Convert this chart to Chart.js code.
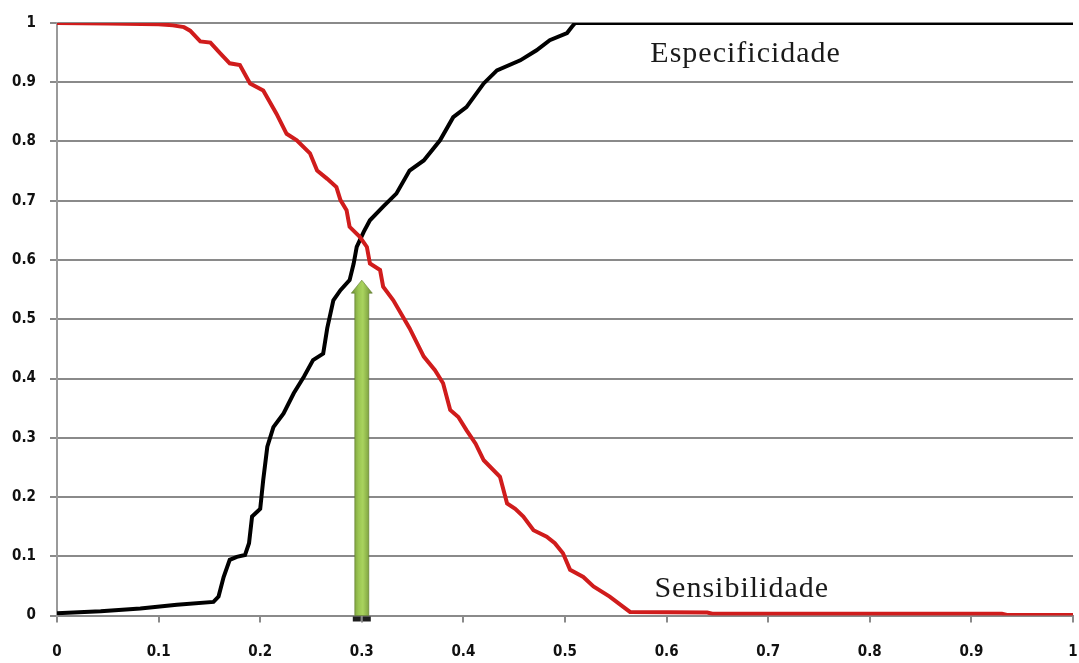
<!DOCTYPE html>
<html>
<head>
<meta charset="utf-8">
<script src="https://cdn.jsdelivr.net/npm/chart.js@4/dist/chart.umd.min.js"></script>
<style>
  html, body { margin: 0; padding: 0; background: #fff; }
  #wrap { width: 1079px; height: 663px; }
</style>
</head>
<body>
<div id="wrap"><canvas id="c" width="1079" height="663"></canvas></div>
<script>
// Sensibilidade (sensitivity) versus cut-off point
const sensX = [0, 0.05, 0.10, 0.114, 0.125, 0.131, 0.141, 0.151, 0.160, 0.170, 0.180, 0.190, 0.203, 0.216, 0.226, 0.236, 0.249, 0.256, 0.266, 0.275, 0.279, 0.285, 0.288, 0.298, 0.305, 0.308, 0.318, 0.321, 0.331, 0.347, 0.361, 0.372, 0.380, 0.387, 0.395, 0.403, 0.412, 0.420, 0.436, 0.443, 0.451, 0.459, 0.469, 0.482, 0.490, 0.498, 0.505, 0.518, 0.528, 0.544, 0.557, 0.564, 0.640, 0.645, 0.930, 0.935, 1.0];
const sensY = [1.0, 0.999, 0.998, 0.996, 0.993, 0.987, 0.969, 0.967, 0.950, 0.932, 0.929, 0.898, 0.886, 0.847, 0.813, 0.802, 0.780, 0.751, 0.737, 0.723, 0.701, 0.684, 0.656, 0.639, 0.622, 0.594, 0.583, 0.555, 0.532, 0.485, 0.437, 0.414, 0.392, 0.347, 0.335, 0.313, 0.290, 0.262, 0.234, 0.189, 0.180, 0.167, 0.144, 0.133, 0.122, 0.105, 0.077, 0.065, 0.049, 0.032, 0.015, 0.006, 0.005, 0.003, 0.003, 0.001, 0.001];

// Especificidade (specificity) versus cut-off point
const specX = [0, 0.043, 0.082, 0.118, 0.154, 0.159, 0.164, 0.170, 0.177, 0.185, 0.189, 0.192, 0.197, 0.200, 0.203, 0.207, 0.213, 0.223, 0.233, 0.243, 0.252, 0.262, 0.266, 0.272, 0.279, 0.288, 0.292, 0.295, 0.302, 0.308, 0.321, 0.334, 0.347, 0.361, 0.377, 0.390, 0.403, 0.420, 0.433, 0.456, 0.472, 0.485, 0.502, 0.507, 0.510, 1.0];
const specY = [0.004, 0.007, 0.012, 0.018, 0.023, 0.032, 0.065, 0.094, 0.099, 0.102, 0.122, 0.167, 0.175, 0.180, 0.229, 0.285, 0.318, 0.341, 0.375, 0.403, 0.431, 0.442, 0.485, 0.532, 0.549, 0.566, 0.594, 0.622, 0.648, 0.667, 0.690, 0.712, 0.751, 0.768, 0.802, 0.841, 0.858, 0.898, 0.920, 0.937, 0.954, 0.971, 0.983, 0.994, 1.0, 1.0];

// Axis tick labels
const xTickLabels = ['0', '0.1', '0.2', '0.3', '0.4', '0.5', '0.6', '0.7', '0.8', '0.9', '1'];
const yTickLabels = ['0', '0.1', '0.2', '0.3', '0.4', '0.5', '0.6', '0.7', '0.8', '0.9', '1'];

// Chosen cut-off marked by the arrow, and how high the arrow reaches
const cutoffX = 0.3;
const arrowTopY = 0.566;

// Curve names written next to each curve: [text, x, y(baseline)]
const curveLabels = [
  ['Especificidade', 0.584, 0.935],
  ['Sensibilidade', 0.588, 0.031]
];

const toPoints = (xs, ys) => xs.map((x, i) => ({ x, y: ys[i] }));

const arrowPlugin = {
  id: 'cutoffArrow',
  afterDatasetsDraw(chart) {
    const { ctx, scales: { x, y } } = chart;
    const cx = x.getPixelForValue(cutoffX);
    const yBase = y.getPixelForValue(0);
    const yTip = y.getPixelForValue(arrowTopY);
    const shaftW = 14, headW = 21, headH = 13;
    ctx.save();
    // dark foot under the arrow
    ctx.fillStyle = '#1e1e1e';
    ctx.fillRect(cx - 9, yBase + 1, 8, 5);
    ctx.fillRect(cx + 1, yBase + 1, 8, 5);
    // shaft with a rounded-looking gradient
    const g = ctx.createLinearGradient(cx - headW / 2, 0, cx + headW / 2, 0);
    g.addColorStop(0, '#6d8f34');
    g.addColorStop(0.35, '#9cc653');
    g.addColorStop(0.55, '#a9d35e');
    g.addColorStop(1, '#6a8a32');
    ctx.fillStyle = g;
    ctx.beginPath();
    ctx.moveTo(cx - shaftW / 2, yBase);
    ctx.lineTo(cx - shaftW / 2, yTip + headH);
    ctx.lineTo(cx - headW / 2, yTip + headH);
    ctx.lineTo(cx, yTip);
    ctx.lineTo(cx + headW / 2, yTip + headH);
    ctx.lineTo(cx + shaftW / 2, yTip + headH);
    ctx.lineTo(cx + shaftW / 2, yBase);
    ctx.closePath();
    ctx.fill();
    ctx.strokeStyle = 'rgba(90,120,40,0.6)';
    ctx.lineWidth = 1;
    ctx.stroke();
    ctx.restore();
  }
};

const labelPlugin = {
  id: 'curveNames',
  afterDatasetsDraw(chart) {
    const { ctx, scales: { x, y } } = chart;
    ctx.save();
    ctx.font = '30px "Liberation Serif", "Times New Roman", serif';
    ctx.fillStyle = '#1a1a1a';
    ctx.textAlign = 'left';
    ctx.textBaseline = 'alphabetic';
    if ('letterSpacing' in ctx) ctx.letterSpacing = '1px';
    curveLabels.forEach(([t, vx, vy]) => {
      ctx.fillText(t, x.getPixelForValue(vx), y.getPixelForValue(vy));
    });
    ctx.restore();
  }
};

const tickFont = { family: '"DejaVu Sans Condensed", "DejaVu Sans", sans-serif', weight: 'bold', size: 15 };

new Chart(document.getElementById('c'), {
  type: 'scatter',
  data: {
    datasets: [
      {
        label: 'Sensibilidade',
        data: toPoints(sensX, sensY),
        showLine: true,
        borderColor: '#d01c1c',
        borderWidth: 4,
        pointRadius: 0,
        tension: 0
      },
      {
        label: 'Especificidade',
        data: toPoints(specX, specY),
        showLine: true,
        borderColor: '#000000',
        borderWidth: 4,
        pointRadius: 0,
        tension: 0
      }
    ]
  },
  options: {
    responsive: false,
    animation: false,
    devicePixelRatio: 1,
    layout: { autoPadding: false, padding: { top: 23, right: 6, left: 0, bottom: 0 } },
    plugins: {
      legend: { display: false },
      tooltip: { enabled: false }
    },
    scales: {
      x: {
        type: 'linear',
        min: 0,
        max: 1,
        afterFit(s) {
          s.height = 47.5;
          s.paddingLeft = 0;
          s.paddingRight = 0;
        },
        ticks: {
          stepSize: 0.1,
          padding: 21,
          color: '#111',
          font: tickFont,
          callback: (v, i) => xTickLabels[i]
        },
        grid: { drawOnChartArea: false, color: '#8a8a8a', lineWidth: 2, tickLength: 7 },
        border: { display: true, color: '#8a8a8a', width: 2 }
      },
      y: {
        type: 'linear',
        min: 0,
        max: 1,
        afterFit(s) {
          s.width = 57;
          s.paddingTop = 0;
          s.paddingBottom = 0;
        },
        ticks: {
          stepSize: 0.1,
          padding: 14,
          color: '#111',
          font: tickFont,
          callback: (v, i) => yTickLabels[i]
        },
        grid: { color: '#8a8a8a', lineWidth: 2, tickLength: 7 },
        border: { display: true, color: '#9a9a9a', width: 2 }
      }
    }
  },
  plugins: [arrowPlugin, labelPlugin]
});
</script>
</body>
</html>
